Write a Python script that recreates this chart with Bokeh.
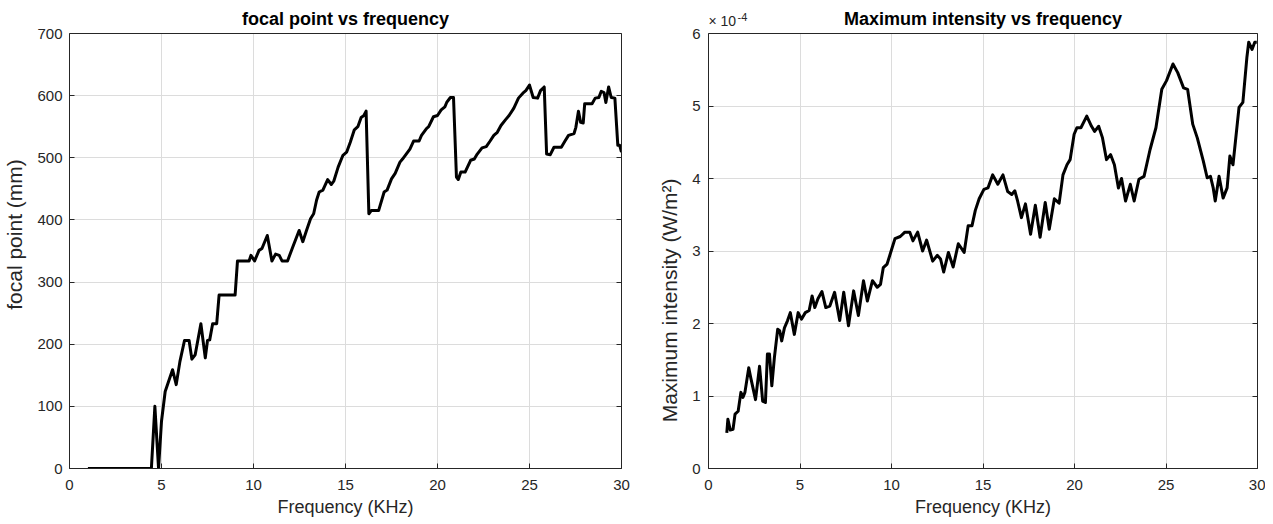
from bokeh.plotting import figure
from bokeh.layouts import row
from bokeh.models import Label, FixedTicker, LinearAxis
from bokeh.embed import file_html
from bokeh.resources import INLINE

# ---- Data: focal point vs frequency ----
focal_freq = [1.0, 4.45, 4.64, 4.84, 5.0, 5.2, 5.6, 5.8, 6.0, 6.25, 6.5, 6.65, 6.83, 7.14,
              7.38, 7.5, 7.62, 7.78, 8.0, 8.13, 9.0, 9.13, 9.76, 9.86, 10.06, 10.3, 10.46,
              10.75, 11.0, 11.2, 11.4, 11.55, 11.85, 12.14, 12.48, 12.68, 12.88, 13.1, 13.27,
              13.43, 13.57, 13.77, 14.03, 14.23, 14.37, 14.6, 14.86, 15.06, 15.26, 15.48,
              15.67, 15.85, 16.0, 16.12, 16.27, 16.4, 16.8, 17.1, 17.26, 17.5, 17.7, 17.96,
              18.1, 18.3, 18.5, 18.7, 19.0, 19.13, 19.4, 19.52, 19.78, 20.0, 20.2, 20.4, 20.5,
              20.7, 20.87, 21.03, 21.13, 21.27, 21.5, 21.8, 22.0, 22.16, 22.42, 22.65, 22.86,
              23.06, 23.25, 23.45, 23.69, 23.89, 24.15, 24.4, 24.64, 24.8, 25.0, 25.2, 25.44,
              25.6, 25.8, 25.93, 26.13, 26.33, 26.73, 26.93, 27.12, 27.42, 27.52, 27.66, 27.78,
              27.92, 28.0, 28.4, 28.57, 28.77, 28.9, 29.05, 29.15, 29.3, 29.44, 29.64, 29.8,
              29.9, 30.0]
focal_mm = [0, 0, 100, 0, 76, 124, 159, 135, 172, 206, 206, 176, 183, 233,
            178, 206, 207, 233, 233, 279, 279, 334, 334, 343, 334, 351, 354,
            375, 334, 345, 343, 334, 334, 357, 383, 365, 383, 402, 410,
            432, 445, 448, 465, 457, 463, 485, 504, 509, 525, 545,
            550, 565, 568, 575, 410, 415, 415, 445, 448, 466, 475, 493,
            498, 506, 514, 527, 527, 536, 547, 550, 566, 568, 577, 582, 589,
            597, 597, 469, 465, 477, 477, 496, 498, 506, 516, 518, 527,
            536, 541, 552, 561, 568, 580, 596, 604, 608, 617, 597, 596,
            608, 614, 506, 505, 517, 517, 527, 536, 539, 549, 575, 557,
            556, 587, 587, 596, 597, 607, 605, 589, 614, 597, 596, 520,
            520, 509]

# ---- Data: maximum intensity vs frequency (units of 1e-4 W/m^2) ----
int_freq = [1.0, 1.06, 1.19, 1.34, 1.45, 1.62, 1.77, 1.88, 1.99, 2.2, 2.31, 2.57, 2.79,
            2.96, 3.11, 3.22, 3.33, 3.46, 3.6, 3.78, 3.89, 4.0, 4.15, 4.32, 4.47, 4.69,
            4.9, 5.08, 5.29, 5.5, 5.66, 5.81, 5.98, 6.2, 6.41, 6.63, 6.89, 7.17, 7.39,
            7.65, 7.93, 8.19, 8.47, 8.68, 8.96, 9.22, 9.4, 9.55, 9.76, 9.98, 10.19, 10.48,
            10.73, 11.0, 11.17, 11.43, 11.7, 11.92, 12.25, 12.5, 12.68, 12.85, 13.11, 13.37,
            13.65, 13.97, 14.19, 14.4, 14.58, 14.79, 15.05, 15.27, 15.53, 15.81, 16.09,
            16.35, 16.57, 16.74, 16.89, 17.1, 17.32, 17.6, 17.86, 18.12, 18.4, 18.62, 18.9,
            19.16, 19.37, 19.59, 19.76, 19.98, 20.13, 20.35, 20.67, 20.93, 21.1, 21.32,
            21.53, 21.75, 21.97, 22.18, 22.4, 22.57, 22.79, 23.05, 23.26, 23.52, 23.8,
            24.13, 24.45, 24.77, 25.03, 25.38, 25.64, 25.96, 26.18, 26.46, 26.71, 27.04,
            27.25, 27.43, 27.58, 27.69, 27.9, 28.12, 28.34, 28.49, 28.66, 28.99, 29.2,
            29.42, 29.52, 29.7, 29.85, 29.96]
int_e4 = [0.49, 0.68, 0.53, 0.54, 0.75, 0.79, 1.05, 0.98, 1.05, 1.39, 1.25, 0.95, 1.41,
          0.93, 0.91, 1.58, 1.58, 1.14, 1.53, 1.92, 1.9, 1.76, 1.94, 2.04, 2.15, 1.85,
          2.15, 2.06, 2.15, 2.18, 2.38, 2.22, 2.34, 2.44, 2.22, 2.24, 2.43, 2.04, 2.43,
          1.97, 2.45, 2.11, 2.59, 2.31, 2.59, 2.5, 2.54, 2.77, 2.82, 3.0, 3.17, 3.2,
          3.26, 3.26, 3.14, 3.26, 3.0, 3.15, 2.86, 2.94, 2.89, 2.71, 2.98, 2.78,
          3.1, 2.98, 3.35, 3.35, 3.56, 3.72, 3.85, 3.87, 4.05, 3.92, 4.05,
          3.82, 3.78, 3.83, 3.69, 3.46, 3.65, 3.23, 3.63, 3.19, 3.67, 3.3, 3.72,
          3.66, 4.05, 4.19, 4.26, 4.61, 4.7, 4.7, 4.86, 4.72, 4.65, 4.72,
          4.56, 4.26, 4.33, 4.19, 3.87, 4.0, 3.69, 3.92, 3.69, 3.99, 4.03,
          4.4, 4.7, 5.23, 5.35, 5.58, 5.46, 5.25, 5.23, 4.75, 4.56, 4.24,
          4.01, 4.03, 3.87, 3.69, 4.03, 3.73, 3.87, 4.31, 4.19, 4.98, 5.05,
          5.67, 5.88, 5.78, 5.88, 5.88]

x_ticks = [0, 5, 10, 15, 20, 25, 30]
focal_ticks = [0, 100, 200, 300, 400, 500, 600, 700]
int_ticks = [0, 1, 2, 3, 4, 5, 6]

FONT = "Liberation Sans"
AX = "#262626"
GRID = "#DCDCDC"
# The plotting frame is extended 33px above the axes box so titles can be drawn as labels.
EXT = 468.0 / 435.0


def style_axis(ax):
    ax.major_tick_in = 5
    ax.major_tick_out = 0
    ax.minor_tick_line_color = None
    ax.axis_line_color = AX
    ax.major_tick_line_color = AX
    ax.major_label_text_font = FONT
    ax.major_label_text_font_size = "15px"
    ax.major_label_text_color = AX
    ax.axis_label_text_font = FONT
    ax.axis_label_text_font_size = "18px"
    ax.axis_label_text_font_style = "normal"
    ax.axis_label_text_color = AX


def make_fig(title, yticks, ylabel, frame_width, border_left, border_right):
    p = figure(output_backend="svg", toolbar_location=None,
               x_range=(x_ticks[0], x_ticks[-1]), y_range=(yticks[0], yticks[-1] * EXT),
               frame_width=frame_width, frame_height=468,
               min_border_left=border_left, min_border_right=border_right,
               min_border_top=0, min_border_bottom=55)
    p.outline_line_color = None
    p.xaxis.ticker = FixedTicker(ticks=x_ticks)
    p.yaxis.ticker = FixedTicker(ticks=yticks)
    for ax in p.axis:
        style_axis(ax)
    p.yaxis.bounds = (yticks[0], yticks[-1])
    p.yaxis.axis_label_text_font_size = "21px"
    p.xaxis.major_label_standoff = 11
    p.xaxis.axis_label_standoff = 4
    p.yaxis.major_label_standoff = 7
    p.yaxis.axis_label_standoff = 8
    p.grid.grid_line_color = GRID
    p.xgrid.cross_bounds = (yticks[0], yticks[-1])
    p.xaxis.axis_label = "Frequency (KHz)"
    p.yaxis.axis_label = ylabel
    # ticks on the right edge of the box (no labels)
    rax = LinearAxis(ticker=FixedTicker(ticks=yticks))
    style_axis(rax)
    rax.major_label_overrides = {t: "" for t in yticks}
    rax.major_label_standoff = 0
    rax.bounds = (yticks[0], yticks[-1])
    p.add_layout(rax, "right")
    # box
    p.quad(left=x_ticks[0], right=x_ticks[-1], bottom=yticks[0], top=yticks[-1],
           fill_color=None, line_color=AX, line_width=1)
    # title
    p.add_layout(Label(x=(x_ticks[0] + x_ticks[-1]) / 2, y=yticks[-1], y_offset=15,
                       text=title, text_font=FONT, text_font_size="18px",
                       text_font_style="bold", text_color="#000000",
                       text_align="center", text_baseline="middle"))
    return p


p1 = make_fig("focal point vs frequency", focal_ticks, "focal point (mm)", 552, 69, 27)
p1.line(focal_freq, focal_mm, line_color="black", line_width=3, line_join="round")

p2 = make_fig("Maximum intensity vs frequency", int_ticks,
              "Maximum intensity  (W/m²)" + "\u2003" * 6, 549, 60, 8)
p2.yaxis.major_label_standoff = 8
p2.line(int_freq, int_e4, line_color="black", line_width=3, line_join="round")
p2.add_layout(Label(x=x_ticks[0], y=int_ticks[-1], x_offset=0, y_offset=5,
                    text="× 10", text_font=FONT, text_font_size="14px",
                    text_color=AX, text_baseline="bottom"))
p2.add_layout(Label(x=x_ticks[0], y=int_ticks[-1], x_offset=29, y_offset=13,
                    text="-4", text_font=FONT, text_font_size="11px",
                    text_color=AX, text_baseline="bottom"))

layout = row(p1, p2)
open("out.html", "w").write(file_html(layout, INLINE))
